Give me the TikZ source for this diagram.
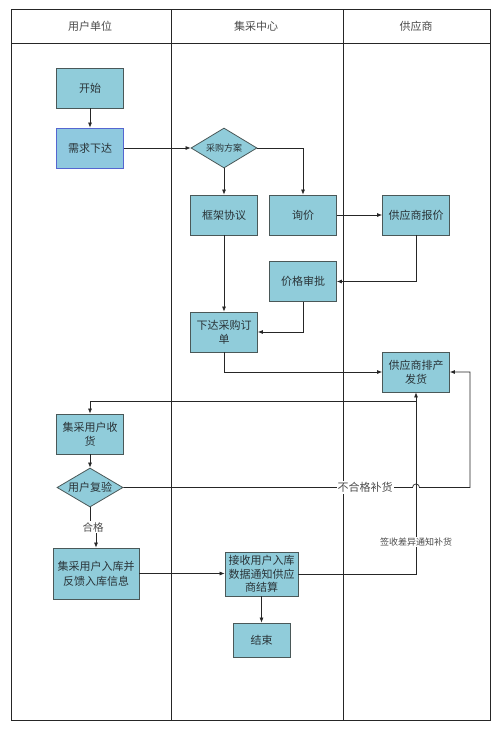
\documentclass[tikz,border=0pt]{standalone}
\usepackage{fontspec}
\setmainfont{Noto Sans CJK SC}
\usetikzlibrary{arrows.meta,shapes.geometric}
\definecolor{boxfill}{HTML}{90CCDA}
\definecolor{boxline}{HTML}{4A5858}
\definecolor{bluebox}{HTML}{5566D0}
\definecolor{bluefill}{HTML}{8FC9DF}
\definecolor{txt}{HTML}{2A3438}
\begin{document}
\begin{tikzpicture}[x=1pt,y=-1pt,
  proc/.style={draw=boxline, fill=boxfill, line width=0.8pt, minimum width=67pt, minimum height=40pt,
     inner sep=1pt, align=center, font=\fontsize{11}{14}\selectfont, text=txt},
  dec/.style={diamond, draw=boxline, fill=boxfill, line width=0.8pt, aspect=1.65, inner sep=0pt,
     minimum width=66pt, minimum height=40pt, text=txt},
  conn/.style={line width=0.7pt, draw=black!85},
  arr/.style={conn, -{Latex[length=5pt,width=4pt]}},
  lane/.style={line width=0.9pt, draw=black!85},
  hdr/.style={font=\fontsize{11}{13}\selectfont, text=black!70},
  lbl/.style={fill=white, inner sep=1pt, text=black!70}
]
\useasboundingbox (0,0) rectangle (500,731);
\fill[white] (0,0) rectangle (500,731);
% frame and lanes
\draw[lane] (11,9) rectangle (490,720);
\draw[lane] (11,43) -- (490,43);
\draw[lane] (171,9) -- (171,720);
\draw[lane] (343,9) -- (343,720);
\node[hdr] (h1) at (90,26) {用户单位};
\node[hdr] (h2) at (256,26) {集采中心};
\node[hdr] (h3) at (416,26) {供应商};
% nodes
\node[proc] (start) at (90,88) {开始};
\node[proc, draw=bluebox, fill=bluefill] (req) at (90,148) {需求下达};
\node[dec, font=\fontsize{9}{11}\selectfont] (plan) at (224,148) {采购方案};
\node[proc] (frame) at (224,215) {框架协议};
\node[proc] (inq) at (303,215) {询价};
\node[proc] (quote) at (416,215) {供应商报价};
\node[proc] (approve) at (303,281.5) {价格审批};
\node[proc] (order) at (224,332) {下达采购订\\单};
\node[proc] (ship) at (416,372) {供应商排产\\发货};
\node[proc] (recv) at (90,434) {集采用户收\\货};
\node[dec, font=\fontsize{11}{13}\selectfont, minimum height=39pt] (check) at (90,487.5) {用户复验};
\node[proc, minimum width=86pt, minimum height=51pt, font=\fontsize{11}{15}\selectfont] (store) at (96,573.5) {集采用户入库并\\反馈入库信息};
\node[proc, minimum width=73pt, minimum height=44pt, font=\fontsize{11}{13.5}\selectfont] (settle) at (261.5,574) {接收用户入库\\数据通知供应\\商结算};
\node[proc, minimum width=57pt, minimum height=34pt] (end) at (261.5,640) {结束};
% connectors
\draw[arr] (start) -- (req);
\draw[arr] (req) -- (plan);
\draw[arr] (plan) -- (frame);
\draw[arr] (plan.east) -| (inq.north);
\draw[arr] (inq) -- (quote);
\draw[arr] (quote.south) |- (approve.east);
\draw[arr] (approve.south) |- (order.east);
\draw[arr] (frame) -- (order);
\draw[arr] (order.south) |- (ship.west);
\coordinate (j1) at (416,401);
\draw[arr] (j1) -| (recv.north);
\draw[arr] (recv) -- (check);
\draw[arr] (settle.east) -| (ship.south);
\node[lbl, font=\fontsize{9}{11}\selectfont] (diff) at (416,542) {签收差异通知补货};
% not-qualified loop with jump
\coordinate (jump) at (416,487.5);
\coordinate (r1) at (470,487.5);
\draw[arr] (check.east) -- ([xshift=-3.5pt]jump) arc[start angle=180, end angle=0, radius=3.5pt] -- (r1) |- (ship.east);
\node[lbl, font=\fontsize{11}{13}\selectfont] (nq) at (365,487.5) {不合格补货};
% qualified
\node[inner sep=1pt, font=\fontsize{10.5}{12}\selectfont, text=black!70] (ok) at (93,527) {合格};
\draw[conn] (check.south) -- (check.south |- ok.north);
\draw[arr] (store.north |- ok.south) -- (store.north);
\draw[arr] (store.east) -- (store.east -| settle.west);
\draw[arr] (settle) -- (end);
\end{tikzpicture}
\end{document}
